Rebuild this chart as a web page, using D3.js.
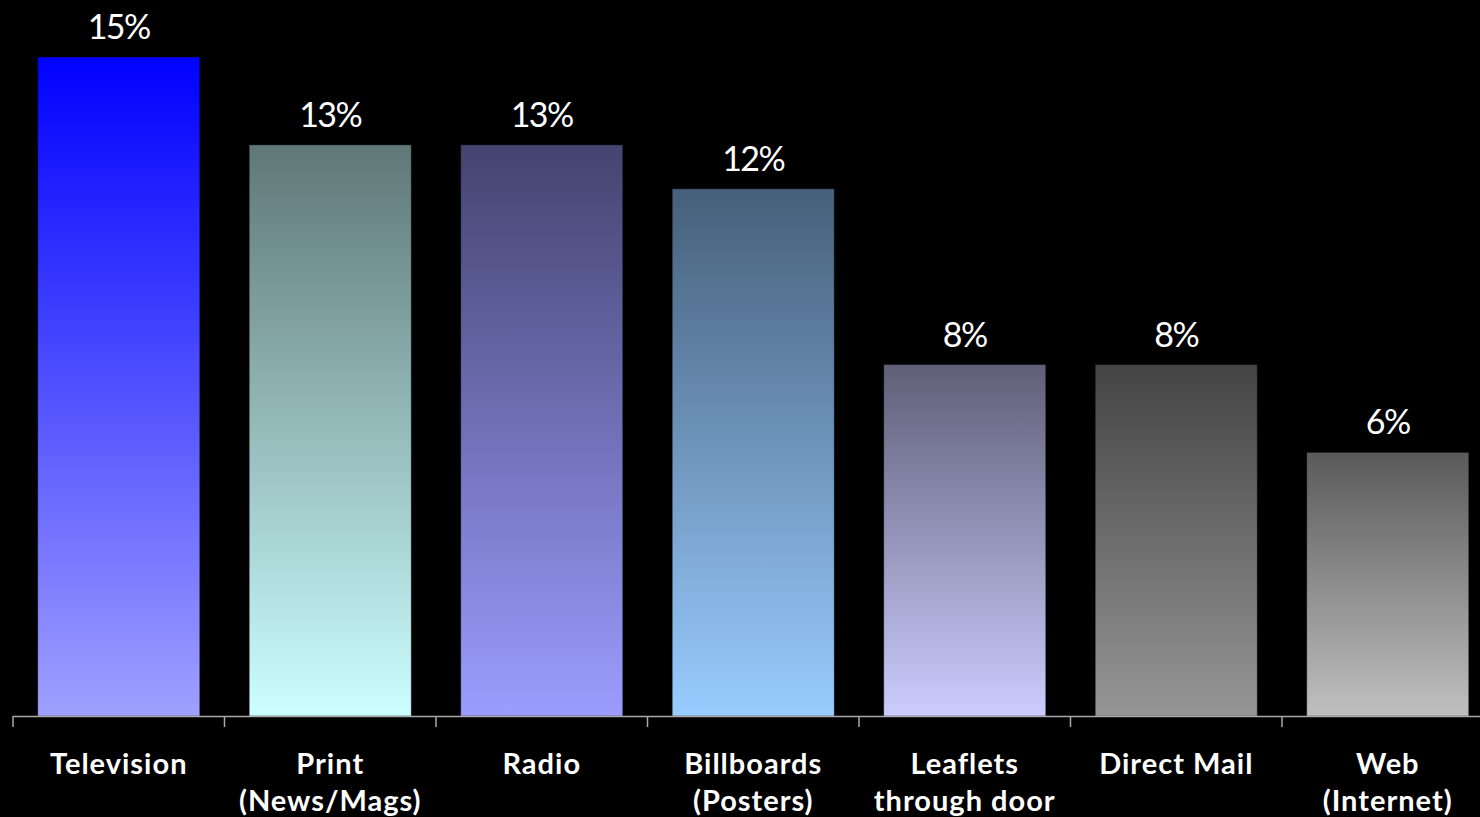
<!DOCTYPE html>
<html>
<head>
<meta charset="utf-8">
<script src="https://cdn.jsdelivr.net/npm/d3@7"></script>
<style>
html,body{margin:0;padding:0;background:#000;overflow:hidden;}
svg{display:block;}
</style>
</head>
<body>
<svg id="chart" width="1480" height="817"></svg>
<script>
const categories = ["Television", "Print\n(News/Mags)", "Radio", "Billboards\n(Posters)", "Leaflets\nthrough door", "Direct Mail", "Web\n(Internet)"];
const values = [15, 13, 13, 12, 8, 8, 6];
const valueLabels = ["15%", "13%", "13%", "12%", "8%", "8%", "6%"];
const topColors = ["#0000ff", "#5f7777", "#44446f", "#465f7a", "#5f5f78", "#444444", "#5a5a5a"];
const bottomColors = ["#a0a0ff", "#ccffff", "#9c9cff", "#99ccff", "#ccccff", "#969696", "#c0c0c0"];

const svg = d3.select("#chart");
const W = 1480, H = 817;
const baseY = 716;
const pad = 0.234;

const x = d3.scaleBand().domain(categories).range([13, 13 + 211.5 * 7]).paddingInner(pad).paddingOuter(pad / 2);
const y = d3.scaleLinear().domain([0, 15]).range([baseY, 57]);

const defs = svg.append("defs");
categories.forEach((c, i) => {
  const g = defs.append("linearGradient").attr("id", "g" + i)
    .attr("x1", 0).attr("y1", 0).attr("x2", 0).attr("y2", 1);
  g.append("stop").attr("offset", "0%").attr("stop-color", topColors[i]);
  g.append("stop").attr("offset", "100%").attr("stop-color", bottomColors[i]);
});

svg.append("g").selectAll("rect").data(values).join("rect")
  .attr("x", (d, i) => x(categories[i]))
  .attr("y", d => y(d))
  .attr("width", x.bandwidth())
  .attr("height", d => baseY - y(d))
  .attr("fill", (d, i) => `url(#g${i})`)
  .attr("stroke", "rgba(0,0,0,0.35)")
  .attr("stroke-width", 1);

svg.append("g").selectAll("text").data(values).join("text")
  .attr("x", (d, i) => x(categories[i]) + x.bandwidth() / 2)
  .attr("y", d => y(d) - 18)
  .attr("text-anchor", "middle")
  .attr("fill", "#fff")
  .attr("font-family", "Lato, 'Open Sans', sans-serif")
  .attr("font-size", 34)
  .attr("letter-spacing", -1.5)
  .text((d, i) => valueLabels[i]);

// axis
const step = x.step();
const axis = svg.append("g").attr("stroke", "#a8a8a8");
axis.append("line").attr("x1", 13).attr("x2", W).attr("y1", baseY + 0.5).attr("y2", baseY + 0.5).attr("stroke-width", 1.5);
axis.selectAll("line.tick").data(categories).join("line").attr("class", "tick")
  .attr("x1", c => x(c) - step * pad / 2).attr("x2", c => x(c) - step * pad / 2)
  .attr("y1", baseY).attr("y2", baseY + 11).attr("stroke-width", 1.5);

const labels = svg.append("g").selectAll("text").data(categories).join("text")
  .attr("x", c => x(c) + x.bandwidth() / 2)
  .attr("y", 774)
  .attr("text-anchor", "middle")
  .attr("fill", "#fff")
  .attr("font-family", "Lato, 'Open Sans', sans-serif")
  .attr("font-weight", "bold")
  .attr("font-size", 29)
  .attr("letter-spacing", 1);
labels.each(function(c) {
  const t = d3.select(this);
  c.split("\n").forEach((line, k) => {
    t.append("tspan").attr("x", x(c) + x.bandwidth() / 2).attr("dy", k === 0 ? 0 : 37).text(line);
  });
});
</script>
</body>
</html>
